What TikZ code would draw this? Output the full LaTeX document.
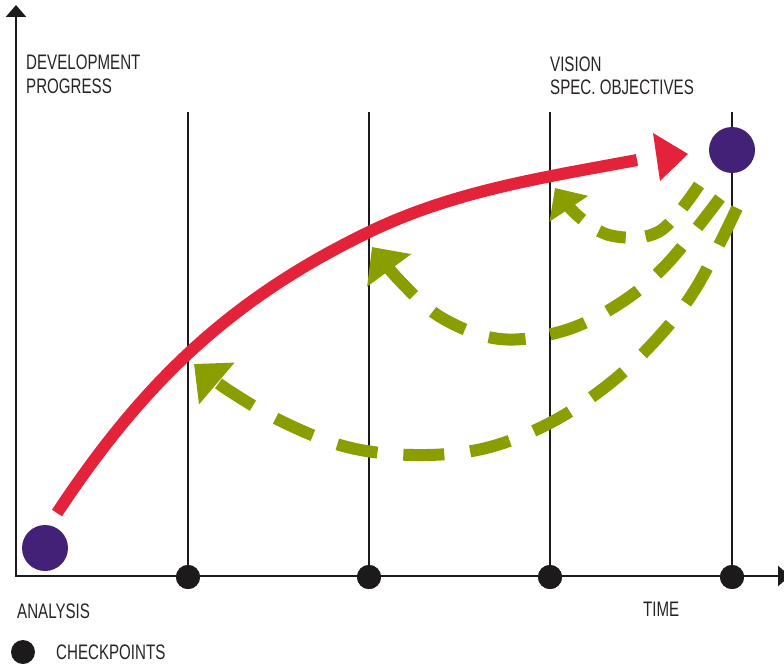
\documentclass[tikz,border=0pt]{standalone}
\usepackage{fontspec}
\setmainfont[FakeStretch=0.72]{Liberation Sans}
\usetikzlibrary{arrows.meta}
\definecolor{cred}{RGB}{228,35,58}
\definecolor{cpurple}{RGB}{67,33,118}
\definecolor{cgreen}{RGB}{138,158,0}
\definecolor{cblack}{RGB}{29,26,27}
\definecolor{ctext}{RGB}{40,36,37}
\begin{document}
\begin{tikzpicture}[x=1pt,y=-1pt,
  gridline/.style={line width=2pt, draw=cblack},
  axisline/.style={line width=2.6pt, draw=cblack, line join=miter,
    {Triangle[length=12pt,width=20pt]}-{Triangle[length=12pt,width=20pt]}},
  progress/.style={line width=12pt, draw=cred},
  loopsmall/.style={line width=12pt, draw=cgreen, dash pattern=on 28pt off 20pt,
    -{Triangle[length=25pt,width=45pt]}},
  loopmid/.style={line width=12pt, draw=cgreen, dash pattern=on 37pt off 25pt,
    -{Triangle[length=29pt,width=53pt]}},
  loopbig/.style={line width=12pt, draw=cgreen, dash pattern=on 41pt off 26pt,
    -{Triangle[length=30pt,width=53pt]}},
  milestone/.style={circle, fill=cpurple, minimum size=46pt, inner sep=0pt},
  checkpoint/.style={circle, fill=cblack, minimum size=24pt, inner sep=0pt},
  txt/.style={font=\fontsize{21}{24}\selectfont, text=ctext, inner sep=0pt, anchor=base west}]
\useasboundingbox (0,0) rectangle (784,666);

% checkpoints
\node[checkpoint] (c1) at (188,577) {};
\node[checkpoint] (c2) at (369,577) {};
\node[checkpoint] (c3) at (550,577) {};
\node[checkpoint] (c4) at (732,577) {};
\coordinate (t1) at (188,112);
\coordinate (t2) at (369,112);
\coordinate (t3) at (550,112);
\coordinate (t4) at (732,112);
\draw[gridline] (t1) -- (c1.center);
\draw[gridline] (t2) -- (c2.center);
\draw[gridline] (t3) -- (c3.center);
\draw[gridline] (t4) -- (c4.center);

% axes
\coordinate (ytop) at (16,5);
\coordinate (orig) at (16,576);
\coordinate (xend) at (790,576);
\draw[axisline] (ytop) -- (orig) -- (xend);

% progress curve
\coordinate (pa) at (57,513);
\coordinate (pc) at (369,232);
\coordinate (pe) at (637,160);
\draw[progress] (pa) .. controls (142.6,383.7) and (229.5,299.4) .. (pc)
  .. controls (454.5,190.7) and (543.6,177.5) .. (pe);
\fill[cred] (653,133) -- (688,154) -- (660,181) -- cycle;

% feedback loops
\draw[loopbig] plot[smooth, tension=0.6] coordinates {(737,208) (696,288) (654,342) (604,388) (546,425) (482,449) (414,455) (347,447) (283,422) (228,390) (194,364)};
\draw[loopmid] plot[smooth, tension=0.6] coordinates {(720,198) (667,264) (619,304) (563,331) (500,339) (442,318) (400,281) (372,247)};
\draw[loopsmall] plot[smooth, tension=0.6] coordinates {(699,185) (660,231) (613,236) (578,216) (555,188)};

% milestones
\node[milestone] (start) at (45,548) {};
\node[milestone] (goal) at (732,150) {};

% checkpoint dots on top of the axis
\foreach \c in {c1,c2,c3,c4} \fill[cblack] (\c) circle (12pt);

% texts
\node[txt] (dev) at (26,70) {DEVELOPMENT};
\node[txt] (prog) at (26,94) {PROGRESS};
\node[txt] (vis) at (550,72) {VISION};
\node[txt] (spec) at (550,95) {SPEC. OBJECTIVES};
\node[txt] (ana) at (17,618) {ANALYSIS};
\node[txt] (time) at (643,616) {TIME};
\node[checkpoint] (leg) at (23,652) {};
\node[txt] (legt) at (56,659) {CHECKPOINTS};
\end{tikzpicture}
\end{document}
